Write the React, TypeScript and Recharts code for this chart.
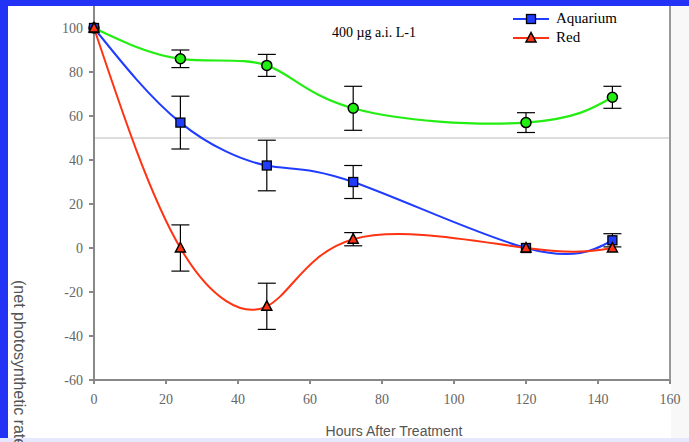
import {
  LineChart, Line, XAxis, YAxis, ErrorBar, ReferenceLine
} from 'recharts'

const hours = [0, 24, 48, 72, 120, 144]
const aquarium = [100, 57, 37.5, 30, 0, 3.5]
const aquariumErr = [0, 12, 11.5, 7.5, 0, 3]
const red = [100, 0, -26.5, 4, 0, 0]
const redErr = [0, 10.5, 10.5, 3, 0, 0]
const green = [100, 86, 83, 63.5, 57, 68.5]
const greenErr = [0, 4, 5, 10, 4.5, 5]
const xTicks = [0, 20, 40, 60, 80, 100, 120, 140, 160]
const yTicks = [-60, -40, -20, 0, 20, 40, 60, 80, 100]

const data = hours.map((h, i) => ({
  h,
  aquarium: aquarium[i], aquariumErr: aquariumErr[i],
  red: red[i], redErr: redErr[i],
  green: green[i], greenErr: greenErr[i],
}))

const BLUE = '#1f3cff'
const RED = '#ff3311'
const GREEN = '#22ee11'
const serif = '"Liberation Serif", "DejaVu Serif", serif'
const sans = '"Liberation Sans", Arial, sans-serif'

const Square = (p: any) => (
  <rect x={p.cx - 4.5} y={p.cy - 4.5} width={9} height={9} fill={BLUE} stroke="#000" strokeWidth={1.3} />
)
const Triangle = (p: any) => (
  <polygon points={`${p.cx},${p.cy - 5.5} ${p.cx - 5},${p.cy + 4} ${p.cx + 5},${p.cy + 4}`} fill={RED} stroke="#000" strokeWidth={1.5} />
)
const Circle = (p: any) => (
  <circle cx={p.cx} cy={p.cy} r={5} fill={GREEN} stroke="#000" strokeWidth={1.5} />
)

const legendItems = [
  { name: 'Aquarium', color: BLUE, Mark: Square },
  { name: 'Red', color: RED, Mark: Triangle },
]

const LegendBox = () => (
  <div style={{ fontFamily: serif, fontSize: 15, color: '#000' }}>
    {legendItems.map(it => (
      <div key={it.name} style={{ display: 'flex', alignItems: 'center', height: 19 }}>
        <svg width={38} height={14}>
          <line x1={1} x2={37} y1={7} y2={7} stroke={it.color} strokeWidth={2} />
          <it.Mark cx={19} cy={7} />
        </svg>
        <span style={{ marginLeft: 6 }}>{it.name}</span>
      </div>
    ))}
  </div>
)

export default function App() {
  return (
    <div style={{ position: 'absolute', left: 0, top: 0, width: 689, height: 442, overflow: 'hidden', background: '#2233f5' }}>
      <div style={{ position: 'absolute', left: 8, top: 6, width: 681, height: 432, background: '#fff' }} />
      <div style={{ position: 'absolute', left: 671, top: 6, width: 18, height: 432, background: '#f8f8f8' }} />
      <div style={{ position: 'absolute', left: 0, top: 438, width: 689, height: 4, background: '#e6e8ff' }} />
      <div style={{ position: 'absolute', left: 0, top: 0 }}>
        <LineChart width={689} height={442} data={data} margin={{ top: 6, right: 19, left: 44, bottom: 2 }}>
          <ReferenceLine y={50} stroke="#dddddd" strokeWidth={2} />
          <ReferenceLine x={160} stroke="#999" strokeWidth={2} />
          <XAxis
            dataKey="h" type="number" domain={[0, 160]} ticks={xTicks}
            stroke="#888" strokeWidth={2} tickSize={4} tickMargin={10} height={60}
            tick={{ fill: '#666', fontFamily: serif, fontSize: 14 }}
            label={{ value: 'Hours After Treatment', position: 'insideBottom', offset: 4, dx: 12, fill: '#555', fontFamily: sans, fontSize: 14 }}
          />
          <YAxis
            type="number" domain={[-60, 110]} ticks={yTicks} width={50}
            stroke="#888" strokeWidth={2} tickSize={5} tickMargin={6}
            tick={{ fill: '#666', fontFamily: serif, fontSize: 14 }}
          />
          <Line type="natural" dataKey="green" stroke={GREEN} strokeWidth={2.2} dot={<Circle />} activeDot={false} isAnimationActive={false}>
            <ErrorBar dataKey="greenErr" width={9} stroke="#000" strokeWidth={1.2} direction="y" />
          </Line>
          <Line type="natural" dataKey="aquarium" name="Aquarium" stroke={BLUE} strokeWidth={2} dot={<Square />} activeDot={false} isAnimationActive={false}>
            <ErrorBar dataKey="aquariumErr" width={9} stroke="#000" strokeWidth={1.2} direction="y" />
          </Line>
          <Line type="natural" dataKey="red" name="Red" stroke={RED} strokeWidth={2} dot={<Triangle />} activeDot={false} isAnimationActive={false}>
            <ErrorBar dataKey="redErr" width={9} stroke="#000" strokeWidth={1.2} direction="y" />
          </Line>
        </LineChart>
      </div>
      <div style={{ position: 'absolute', left: 512, top: 9 }}>
        <LegendBox />
      </div>
      <div style={{ position: 'absolute', left: 332, top: 25, fontFamily: serif, fontSize: 14, color: '#000' }}>
        400 µg a.i. L-1
      </div>
      <div style={{ position: 'absolute', left: 10, top: 280, writingMode: 'vertical-rl', fontFamily: sans, fontSize: 16, color: '#555', whiteSpace: 'nowrap' }}>
        (net photosynthetic rate)
      </div>
    </div>
  )
}
